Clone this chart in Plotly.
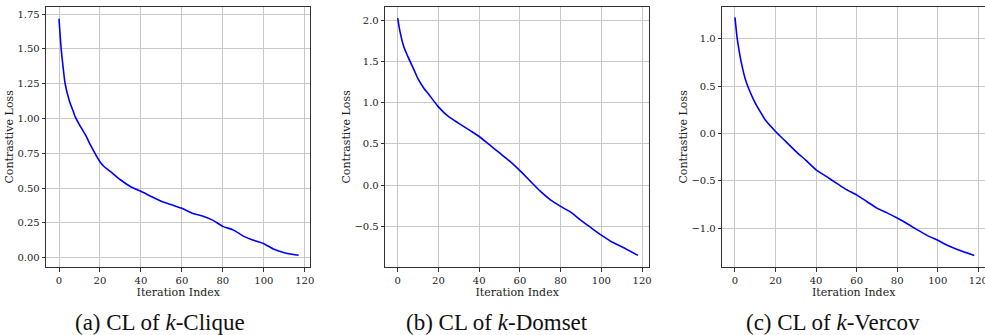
import plotly.graph_objects as go

# ---- data ----
clique_x = [0, 1, 2, 3, 5, 7, 8, 10, 13, 15, 20, 22, 25, 30, 35, 40, 45, 50, 55, 60, 65, 70, 75, 80, 85, 90, 95, 100, 105, 110, 117]
clique_y = [1.717, 1.51, 1.37, 1.25, 1.13, 1.05, 1.01, 0.955, 0.88, 0.82, 0.69, 0.655, 0.62, 0.56, 0.51, 0.477, 0.44, 0.405, 0.38, 0.355, 0.32, 0.30, 0.27, 0.225, 0.20, 0.155, 0.125, 0.10, 0.06, 0.036, 0.017]

domset_x = [0, 1, 3, 5, 8, 10, 13, 15, 20, 25, 30, 35, 40, 45, 50, 55, 60, 65, 70, 75, 80, 85, 90, 95, 100, 105, 110, 118]
domset_y = [2.03, 1.88, 1.68, 1.56, 1.40, 1.29, 1.17, 1.11, 0.95, 0.83, 0.75, 0.67, 0.59, 0.49, 0.39, 0.29, 0.175, 0.05, -0.075, -0.18, -0.26, -0.33, -0.43, -0.52, -0.61, -0.69, -0.75, -0.855]

vercov_x = [0, 1, 2, 3, 5, 7, 10, 13, 15, 20, 25, 30, 35, 40, 45, 50, 55, 60, 65, 70, 75, 80, 85, 90, 95, 100, 105, 110, 118]
vercov_y = [1.225, 1.02, 0.88, 0.76, 0.58, 0.46, 0.32, 0.21, 0.14, 0.02, -0.085, -0.19, -0.285, -0.385, -0.455, -0.525, -0.595, -0.65, -0.72, -0.79, -0.84, -0.895, -0.955, -1.02, -1.08, -1.13, -1.185, -1.23, -1.29]

x_ticks = [0, 20, 40, 60, 80, 100, 120]
captions = ["(a) CL of <i>k</i>-Clique", "(b) CL of <i>k</i>-Domset", "(c) CL of <i>k</i>-Vercov"]
x_label = "Iteration Index"
y_label = "Contrastive Loss"

W, H = 985, 335

def fx(px):
    return px / W

def fy(px):
    return 1 - px / H

panels = [
    dict(x=clique_x, y=clique_y, xdom=(46.3, 310.3), xr=(-6.2, 122.7), yr=(-0.069, 1.805),
         yt=[0, 0.25, 0.5, 0.75, 1.0, 1.25, 1.5, 1.75], yfmt=".2f", mirror=True, cap_x=160),
    dict(x=domset_x, y=domset_y, xdom=(385.3, 649.0), xr=(-6.1, 123.4), yr=(-1.0, 2.17),
         yt=[-0.5, 0.0, 0.5, 1.0, 1.5, 2.0], yfmt=".1f", mirror=True, cap_x=497),
    dict(x=vercov_x, y=vercov_y, xdom=(722.3, 985.0), xr=(-6.25, 123.3), yr=(-1.415, 1.34),
         yt=[-1.0, -0.5, 0.0, 0.5, 1.0], yfmt=".1f", mirror=False, cap_x=833),
]

fig = go.Figure()
serif = "DejaVu Serif, Liberation Serif, serif"
tick_font = dict(family=serif, size=10, color="#222222")
label_font = dict(family=serif, size=11, color="#222222")
annotations = []

for i, p in enumerate(panels):
    n = "" if i == 0 else str(i + 1)
    fig.add_trace(go.Scatter(x=p["x"], y=p["y"], mode="lines",
                             line=dict(color="#0000ff", width=1.6, shape="spline", smoothing=0.6),
                             xaxis="x" + n, yaxis="y" + n, showlegend=False))
    common = dict(showgrid=True, gridcolor="#c8c8c8", gridwidth=1, zeroline=False,
                  showline=True, linecolor="#333333", linewidth=1.2,
                  ticks="outside", ticklen=3.5, tickcolor="#333333", tickwidth=1,
                  tickfont=tick_font, automargin=False, ticklabeloverflow="allow")
    fig.update_layout(**{
        "xaxis" + n: dict(domain=[fx(p["xdom"][0]), fx(p["xdom"][1])], range=list(p["xr"]),
                          tickvals=x_ticks, anchor="y" + n, mirror=True,
                          title=dict(text=x_label, font=label_font, standoff=0), **common),
        "yaxis" + n: dict(domain=[fy(267.3), fy(6.5)], range=list(p["yr"]),
                          tickvals=p["yt"], tickformat=p["yfmt"], anchor="x" + n,
                          mirror=p["mirror"],
                          title=dict(text=y_label, font=label_font, standoff=1), **common),
    })
    annotations.append(dict(text=captions[i], x=fx(p["cap_x"]), y=fy(322), xref="paper", yref="paper",
                            xanchor="center", yanchor="middle", showarrow=False,
                            font=dict(family="Liberation Serif", size=23, color="#111111")))

fig.update_layout(width=W, height=H, margin=dict(l=0, r=0, t=0, b=0, autoexpand=False),
                  paper_bgcolor="white", plot_bgcolor="white", annotations=annotations)

fig.write_html("out.html", config={"displayModeBar": False},
               post_script="document.body.style.margin='0';document.body.style.padding='0';"
                           "document.body.style.overflow='hidden';")
